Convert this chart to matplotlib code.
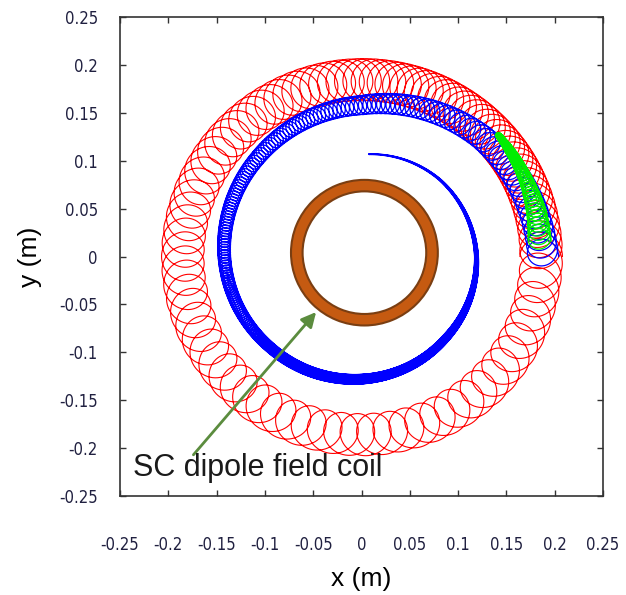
import numpy as np
import matplotlib
matplotlib.use("Agg")
import matplotlib.pyplot as plt
from matplotlib.patches import Wedge

plt.rcParams['font.family'] = ['Liberation Sans', 'DejaVu Sans']

# tick values
ticks = [-0.25, -0.2, -0.15, -0.1, -0.05, 0, 0.05, 0.1, 0.15, 0.2, 0.25]
tick_labels = ['-0.25', '-0.2', '-0.15', '-0.1', '-0.05', '0', '0.05', '0.1', '0.15', '0.2', '0.25']

# coil (annulus)
coil_center = (0.003, 0.004)
coil_r_in = 0.064
coil_r_out = 0.076

# guiding-centre knots: angle (deg), radius (m), gyro radius (m), loops per degree
red_theta = [0, 30, 70, 120, 180, 240, 300, 360]
red_rc = [0.186, 0.186, 0.185, 0.184, 0.185, 0.186, 0.186, 0.186]
red_rg = [0.022, 0.022, 0.022, 0.022, 0.022, 0.022, 0.022, 0.022]
red_dens = [0.25, 0.45, 0.42, 0.30, 0.22, 0.19, 0.19, 0.22]

blue_theta = [0, 45, 90, 135, 180, 225, 270, 315, 360, 405, 446]
blue_rc = [0.188, 0.176, 0.158, 0.149, 0.142, 0.134, 0.128, 0.122, 0.119, 0.114, 0.107]
blue_rg = [0.016, 0.013, 0.010, 0.008, 0.0065, 0.0055, 0.005, 0.004, 0.002, 0.001, 0.0004]
blue_dens = [0.40, 0.50, 0.60, 0.75, 0.90, 1.30, 2.00, 2.00, 2.00, 2.00, 2.00]

green_theta = [5, 15, 25, 35, 42]
green_rc = [0.185, 0.187, 0.188, 0.189, 0.190]
green_rg = [0.012, 0.010, 0.007, 0.005, 0.003]
green_dens = [0.7, 0.9, 1.3, 2.0, 3.0]


def gyro_path(theta_deg, rc, rg, dens):
    # fine guiding angle grid between first and last knot
    th = np.linspace(theta_deg[0], theta_deg[-1], 20000)
    r_c = np.interp(th, theta_deg, rc)
    r_g = np.interp(th, theta_deg, rg)
    d = np.interp(th, theta_deg, dens)
    phase = 2 * np.pi * np.concatenate([[0], np.cumsum(d[1:] * np.diff(th))])
    t = np.radians(th)
    x = r_c * np.cos(t) + r_g * np.cos(phase)
    y = r_c * np.sin(t) + r_g * np.sin(phase)
    return x, y


fig = plt.figure(figsize=(6.26, 5.95), dpi=100)
ax = fig.add_axes([0.1917, 0.1664, 0.7716, 0.805])

# coil
ax.add_patch(Wedge(coil_center, coil_r_out, 0, 360, width=coil_r_out - coil_r_in,
                   facecolor='#c55a11', edgecolor='#7a3e12', linewidth=1.5, zorder=2))

xr, yr = gyro_path(red_theta, red_rc, red_rg, red_dens)
ax.plot(xr, yr, color='#ff0000', linewidth=0.8, zorder=3)

xb, yb = gyro_path(blue_theta, blue_rc, blue_rg, blue_dens)
ax.plot(xb, yb, color='#0000ff', linewidth=0.9, zorder=4)

xg, yg = gyro_path(green_theta, green_rc, green_rg, green_dens)
ax.plot(xg, yg, color='#00ee00', linewidth=0.9, zorder=5)

# arrow and label
ax.annotate('', xy=(-0.047, -0.058), xytext=(-0.174, -0.207),
            arrowprops=dict(arrowstyle='-|>', color='#5b8c3e', lw=2,
                            mutation_scale=22, shrinkA=0, shrinkB=0), zorder=6)
ax.text(-0.237, -0.221, 'SC dipole field coil', fontsize=22, color='#1a1a1a',
        ha='left', va='center', zorder=7)

ax.set_xlim(-0.25, 0.25)
ax.set_ylim(-0.25, 0.25)
ax.set_xticks(ticks)
ax.set_yticks(ticks)
tick_font = dict(family=['DejaVu Sans'], stretch='condensed', size=12)
ax.set_xticklabels(tick_labels, **tick_font)
ax.set_yticklabels(tick_labels, **tick_font)
ax.tick_params(direction='in', length=4, width=1, color='#333333',
               labelcolor='#202040', top=True, right=True,
               labeltop=False, labelright=False)
ax.tick_params(axis='x', pad=29)
ax.tick_params(axis='y', pad=16)
for s in ax.spines.values():
    s.set_linewidth(1.2)
    s.set_color('#333333')

ax.set_xlabel('x (m)', fontsize=19, labelpad=9)
ax.set_ylabel('y (m)', fontsize=19, labelpad=12)

fig.savefig('out.png', dpi=100)
